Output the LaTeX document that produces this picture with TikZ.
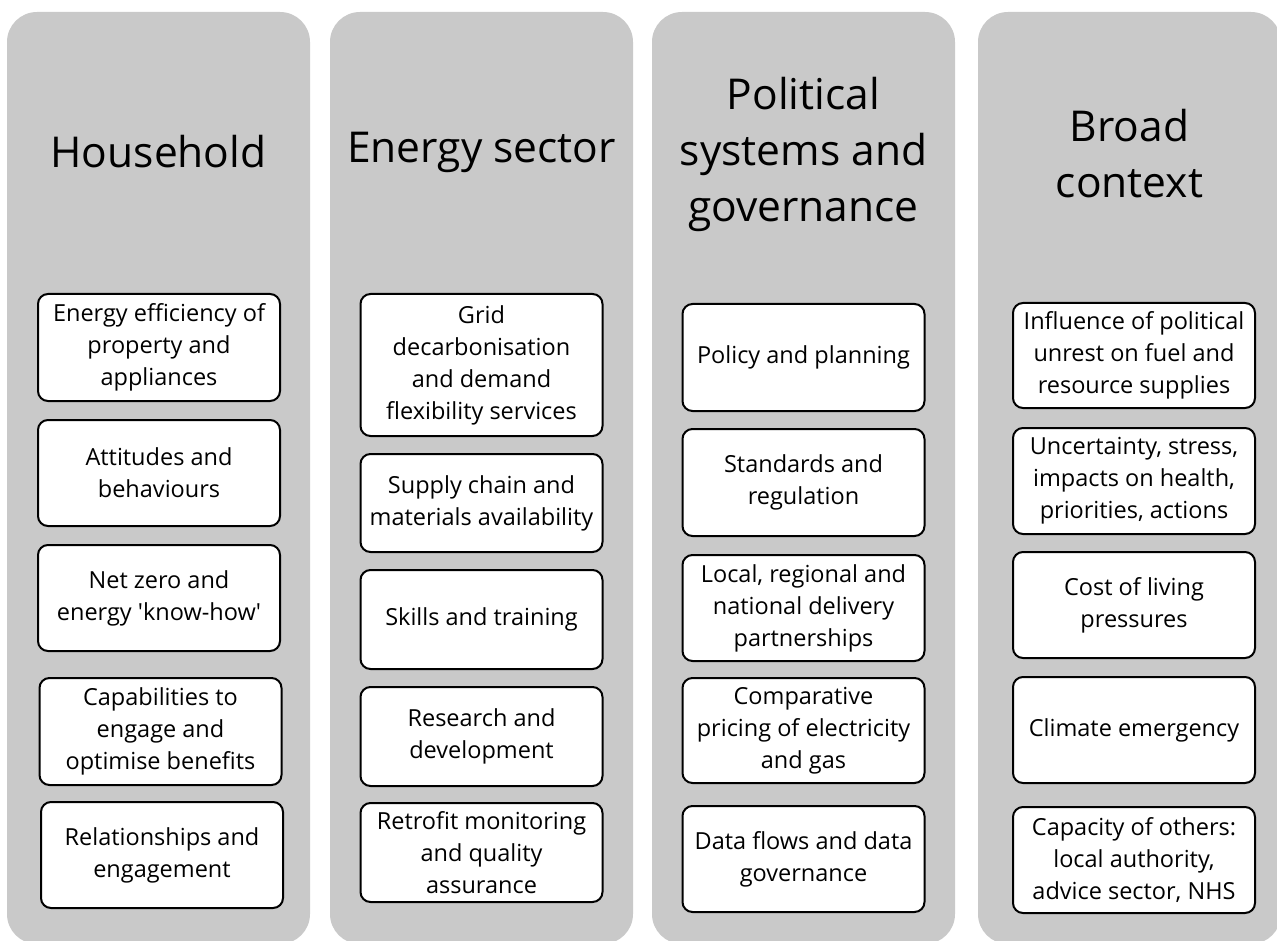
\documentclass[tikz,border=0pt]{standalone}
\usepackage{fontspec}
\setmainfont{Open Sans}
\usepackage{tikz}
\usetikzlibrary{positioning}

\definecolor{colgray}{RGB}{201,201,201}

\tikzset{
  column/.style={fill=colgray,rounded corners=30pt,minimum width=303pt,
    minimum height=932pt,inner sep=0pt},
  heading/.style={align=center,font=\fontsize{42.5}{56}\selectfont},
  item/.style={draw=black,line width=2pt,fill=white,rounded corners=10pt,
    align=center,minimum width=242pt,inner sep=1pt,
    font=\fontsize{23.5}{32}\selectfont}
}

\begin{document}
\begin{tikzpicture}[x=1pt,y=-1pt]
  \useasboundingbox (0,0) rectangle (1277,941);
  \fill[white] (0,0) rectangle (1277,941);

  % grey columns
  \node[column] (colhouse) at (158.5,478) {};
  \node[column] (colenergy) at (481.5,478) {};
  \node[column] (colpolitic) at (803.5,478) {};
  \node[column] (colcontext) at (1129.5,478) {};

  % headings
  \node[heading] (thouse) at (158.5,152) {Household};
  \node[heading] (tenergy) at (481.5,152) {Energy sector};
  \node[heading] (tpolitic) at (803.5,154) {Political\\systems and\\governance};
  \node[heading] (tcontext) at (1129.5,154) {Broad\\context};

  % household
  \node[item,minimum height=107pt] (h1) at (159,347.5) {Energy efficiency of\\property and\\appliances};
  \node[item,minimum height=106pt] (h2) at (159,473) {Attitudes and\\behaviours};
  \node[item,minimum height=106pt] (h3) at (159,598) {Net zero and\\energy \textquotesingle know-how\textquotesingle};
  \node[item,minimum height=107pt] (h4) at (160.5,731.5) {Capabilities to\\engage and\\optimise benefits};
  \node[item,minimum height=106pt] (h5) at (162,855) {Relationships and\\engagement};

  % energy sector
  \node[item,minimum height=142pt] (e1) at (481.5,365) {Grid\\decarbonisation\\and demand\\flexibility services};
  \node[item,minimum height=98pt] (e2) at (481.5,503) {Supply chain and\\materials availability};
  \node[item,minimum height=99pt] (e3) at (481.5,619.5) {Skills and training};
  \node[item,minimum height=99pt] (e4) at (481.5,736.5) {Research and\\development};
  \node[item,minimum height=99pt] (e5) at (481.5,852.5) {Retrofit monitoring\\and quality\\assurance};

  % political systems
  \node[item,minimum height=107pt] (p1) at (803.5,357.5) {Policy and planning};
  \node[item,minimum height=107pt] (p2) at (803.5,482.5) {Standards and\\regulation};
  \node[item,minimum height=106pt] (p3) at (803.5,608) {Local, regional and\\national delivery\\partnerships};
  \node[item,minimum height=105pt] (p4) at (803.5,730.5) {Comparative\\pricing of electricity\\and gas};
  \node[item,minimum height=106pt] (p5) at (803.5,859) {Data flows and data\\governance};

  % broad context
  \node[item,minimum height=105pt] (b1) at (1134,355.5) {Influence of political\\unrest on fuel and\\resource supplies};
  \node[item,minimum height=106pt] (b2) at (1134,481) {Uncertainty, stress,\\impacts on health,\\priorities, actions};
  \node[item,minimum height=106pt] (b3) at (1134,605) {Cost of living\\pressures};
  \node[item,minimum height=106pt] (b4) at (1134,730) {Climate emergency};
  \node[item,minimum height=106pt] (b5) at (1134,860) {Capacity of others:\\local authority,\\advice sector, NHS};
\end{tikzpicture}
\end{document}
